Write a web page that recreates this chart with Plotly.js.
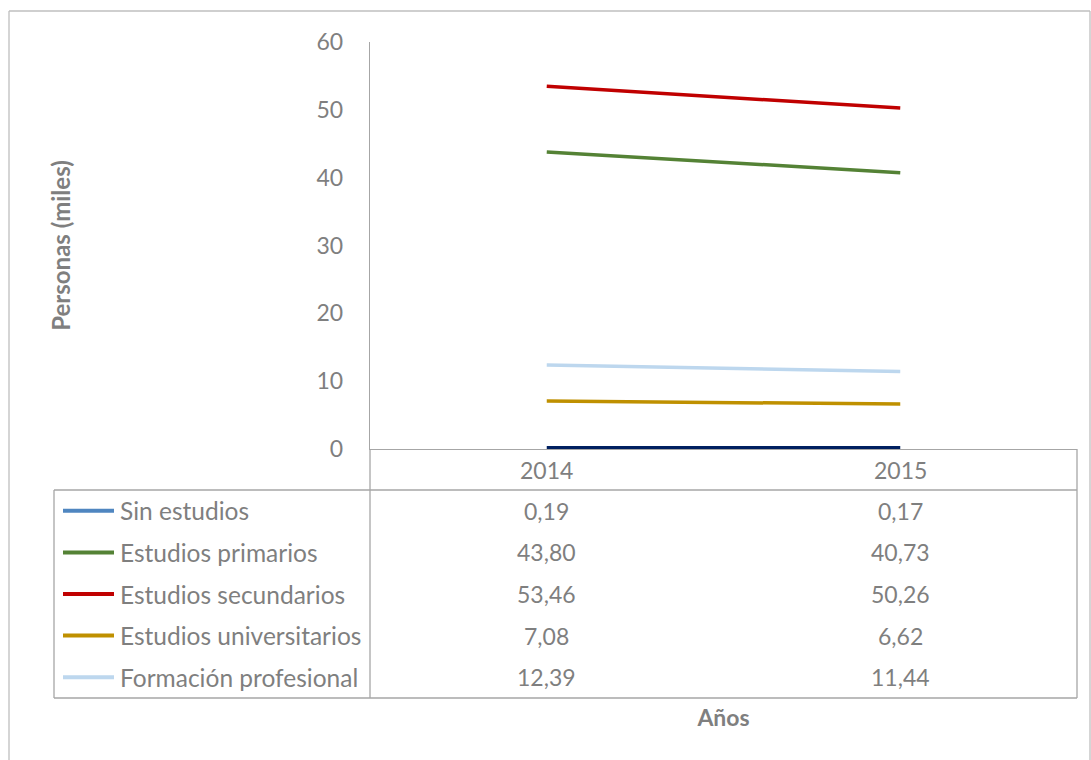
<!DOCTYPE html>
<html><head><meta charset="utf-8">
<script src="https://cdn.plot.ly/plotly-3.0.1.min.js"></script>
<style>html,body{margin:0;padding:0;background:#fff;}#chart{width:1091px;height:760px;}</style>
</head><body><div id="chart"></div>
<script>
const years = ['2014', '2015'];
const seriesNames = ['Sin estudios', 'Estudios primarios', 'Estudios secundarios', 'Estudios universitarios', 'Formación profesional'];
const sinEstudios = [0.19, 0.17];
const primarios = [43.80, 40.73];
const secundarios = [53.46, 50.26];
const universitarios = [7.08, 6.62];
const formacion = [12.39, 11.44];
const yTicks = [0, 10, 20, 30, 40, 50, 60];

const allSeries = [sinEstudios, primarios, secundarios, universitarios, formacion];
const lineColors = ['#002060', '#548235', '#C00000', '#BF9000', '#BDD7EE'];
const keyColors = ['#4F86C0', '#548235', '#C00000', '#BF9000', '#BDD7EE'];

const W = 1091, H = 760;
const L = 370, R = 1077, T = 42, B = 449;
const xp = px => (px - L) / (R - L);
const yp = py => (B - py) / (B - T);
const grey = '#7F7F7F';
const lineGrey = '#A6A6A6';
const FONT = 'Lato, "Open Sans", sans-serif';

const traces = allSeries.map((s, i) => ({
  type: 'scatter', mode: 'lines', x: years, y: s, name: seriesNames[i],
  line: {color: lineColors[i], width: 3.5}, hoverinfo: 'x+y+name'
}));

const shapes = [];
const ln = (x0, y0, x1, y1, color, w) => shapes.push({type: 'line', xref: 'paper', yref: 'paper',
  x0: xp(x0), y0: yp(y0), x1: xp(x1), y1: yp(y1), line: {color: color || lineGrey, width: w || 1.3}});
// outer chart border
ln(9, 11, 1090, 11, '#BFBFBF', 1.3);
ln(9, 11, 9, 770, '#BFBFBF', 1.3);
ln(1090, 11, 1090, 770, '#BFBFBF', 1.3);
// data table grid
const rowTop = 490, rowH = 41.6, nRows = 5;
const tableBottom = rowTop + rowH * nRows;
ln(R, B, R, tableBottom);
ln(L, B, L, tableBottom);
ln(54, rowTop, R, rowTop);
ln(54, tableBottom, R, tableBottom);
ln(54, rowTop, 54, tableBottom);

const annotations = [];
years.forEach((yr, j) => {
  annotations.push({xref: 'x', yref: 'paper', x: j, y: yp(469.5), text: yr, showarrow: false,
    xanchor: 'center', yanchor: 'middle', font: {family: FONT, size: 23, color: grey}});
});
allSeries.forEach((s, i) => {
  const cy = rowTop + rowH * (i + 0.5);
  shapes.push({type: 'line', xref: 'paper', yref: 'paper', x0: xp(63), x1: xp(114), y0: yp(cy), y1: yp(cy),
    line: {color: keyColors[i], width: 4}});
  annotations.push({xref: 'paper', yref: 'paper', x: xp(118), y: yp(cy), text: seriesNames[i], showarrow: false,
    xanchor: 'left', yanchor: 'middle', font: {family: FONT, size: 24.5, color: grey}});
  s.forEach((v, j) => {
    annotations.push({xref: 'x', yref: 'paper', x: j, y: yp(cy), text: v.toFixed(2).replace('.', ','), showarrow: false,
      xanchor: 'center', yanchor: 'middle', font: {family: FONT, size: 23, color: grey}});
  });
});

const layout = {
  width: W, height: H,
  margin: {l: L, r: W - R, t: T, b: H - B, pad: 0},
  paper_bgcolor: '#fff', plot_bgcolor: '#fff',
  showlegend: false,
  xaxis: {type: 'category', range: [-0.5, 1.5], showgrid: false, zeroline: false,
    showline: true, linecolor: lineGrey, linewidth: 1.3, showticklabels: false, ticks: '',
    title: {text: 'Años', standoff: 260, font: {family: FONT, size: 23, color: grey, weight: 'bold'}},
    automargin: false, fixedrange: true},
  yaxis: {range: [0, 60], tickvals: yTicks, showgrid: false, zeroline: false,
    showline: true, linecolor: lineGrey, linewidth: 1.3, ticks: '', ticklabelstandoff: 21,
    tickfont: {family: FONT, size: 23, color: grey},
    title: {text: 'Personas (miles)', standoff: 239, font: {family: FONT, size: 24, color: grey, weight: 'bold'}},
    automargin: false, fixedrange: true},
  shapes: shapes,
  annotations: annotations
};
Plotly.newPlot('chart', traces, layout, {displayModeBar: false, staticPlot: true});
</script></body></html>
